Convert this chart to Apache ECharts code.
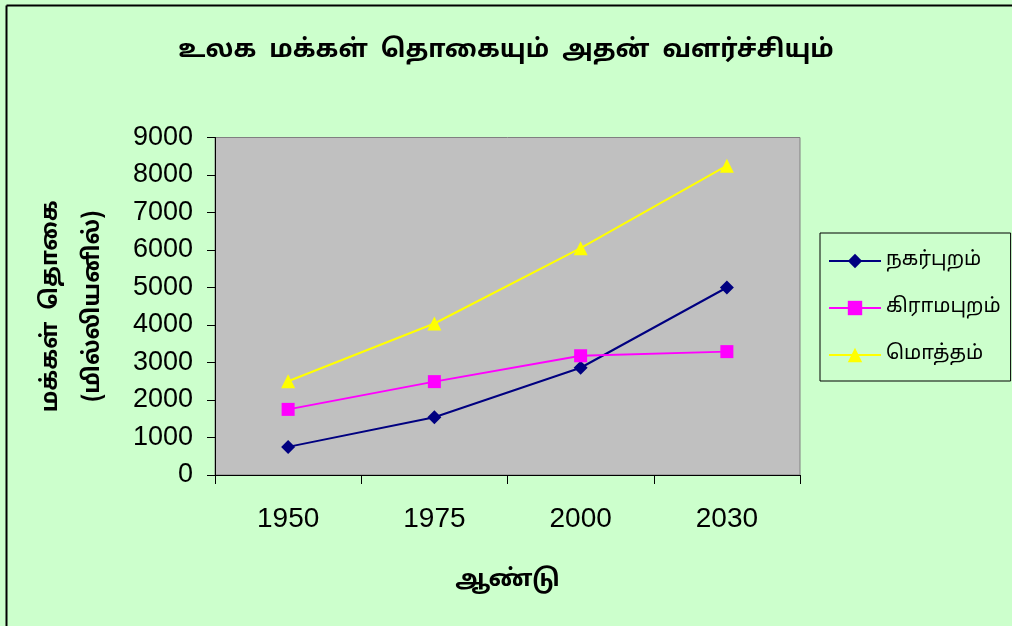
<!DOCTYPE html>
<html>
<head>
<meta charset="utf-8">
<script src="https://cdn.jsdelivr.net/npm/echarts@6/dist/echarts.min.js"></script>
<style>
  html, body { margin: 0; padding: 0; background: #ccffcc; }
  #chart { width: 1012px; height: 626px; }
</style>
</head>
<body>
<div id="chart"></div>
<script>
// data
const years = ['1950', '1975', '2000', '2030']
const urban = [750, 1540, 2860, 5000]
const rural = [1750, 2490, 3180, 3290]
const total = [2500, 4040, 6050, 8250]

const seriesNames = ['நகர்புறம்', 'கிராமபுறம்', 'மொத்தம்']
const titleText = 'உலக  மக்கள்  தொகையும்  அதன்  வளர்ச்சியும்'
const yName = 'மக்கள்  தொகை\n(மில்லியனில்)'
const xName = 'ஆண்டு'

const tamilFont = "'Noto Sans Tamil', 'Lohit Tamil', Latha, 'Noto Sans', sans-serif"
const numFont = "'Liberation Sans', Arial, sans-serif"

const chart = echarts.init(document.getElementById('chart'))

const option = {
  animation: false,
  backgroundColor: '#ccffcc',
  title: {
    text: titleText,
    left: 'center',
    top: 34,
    textStyle: {
      fontFamily: tamilFont,
      fontWeight: 'bold',
      fontSize: 25,
      color: '#000'
    }
  },
  legend: {
    orient: 'vertical',
    left: 820,
    top: 233,
    width: 190,
    height: 145,
    padding: [18, 10, 16, 8],
    itemWidth: 52,
    itemHeight: 18,
    itemGap: 27,
    borderColor: '#000',
    borderWidth: 1,
    backgroundColor: '#ccffcc',
    textStyle: {
      fontFamily: tamilFont,
      fontSize: 20,
      color: '#000'
    },
    data: seriesNames
  },
  grid: {
    left: 215,
    right: 212,
    top: 137.5,
    bottom: 151,
    outerBoundsMode: 'none',
    containLabel: false,
    show: true,
    backgroundColor: '#c0c0c0',
    borderColor: '#808080',
    borderWidth: 1
  },
  xAxis: {
    type: 'category',
    data: years,
    boundaryGap: true,
    name: xName,
    nameLocation: 'middle',
    nameGap: 94,
    nameTextStyle: {
      fontFamily: tamilFont,
      fontWeight: 'bold',
      fontSize: 24,
      color: '#000'
    },
    axisLine: { lineStyle: { color: '#000', width: 1 } },
    axisTick: { show: true, length: 9, inside: false, lineStyle: { color: '#000' } },
    axisLabel: {
      margin: 30,
      fontFamily: numFont,
      fontSize: 28,
      color: '#000'
    },
    splitLine: { show: false }
  },
  yAxis: {
    type: 'value',
    min: 0,
    max: 9000,
    interval: 1000,
    name: yName,
    nameLocation: 'middle',
    nameRotate: 90,
    nameGap: 100,
    nameTextStyle: {
      fontFamily: tamilFont,
      fontWeight: 'bold',
      fontSize: 23,
      lineHeight: 42,
      color: '#000'
    },
    axisLine: { show: true, lineStyle: { color: '#000', width: 1 } },
    axisTick: { show: true, length: 8, lineStyle: { color: '#000' } },
    axisLabel: {
      margin: 22,
      fontFamily: numFont,
      fontSize: 27,
      color: '#000',
      formatter: v => String(v)
    },
    splitLine: { show: false }
  },
  graphic: [
    { type: 'line', shape: { x1: 6.5, y1: 5.5, x2: 1012, y2: 5.5 }, style: { stroke: '#000', lineWidth: 2 } },
    { type: 'line', shape: { x1: 6.5, y1: 5.5, x2: 6.5, y2: 626 }, style: { stroke: '#000', lineWidth: 2 } }
  ],
  series: [
    {
      name: seriesNames[0],
      type: 'line',
      data: urban,
      symbol: 'diamond',
      symbolSize: 14,
      lineStyle: { color: '#000080', width: 2 },
      itemStyle: { color: '#000080' }
    },
    {
      name: seriesNames[1],
      type: 'line',
      data: rural,
      symbol: 'rect',
      symbolSize: 13,
      lineStyle: { color: '#ff00ff', width: 2 },
      itemStyle: { color: '#ff00ff' }
    },
    {
      name: seriesNames[2],
      type: 'line',
      data: total,
      symbol: 'triangle',
      symbolSize: 14,
      lineStyle: { color: '#ffff00', width: 2 },
      itemStyle: { color: '#ffff00' }
    }
  ]
}

chart.setOption(option)
</script>
</body>
</html>
